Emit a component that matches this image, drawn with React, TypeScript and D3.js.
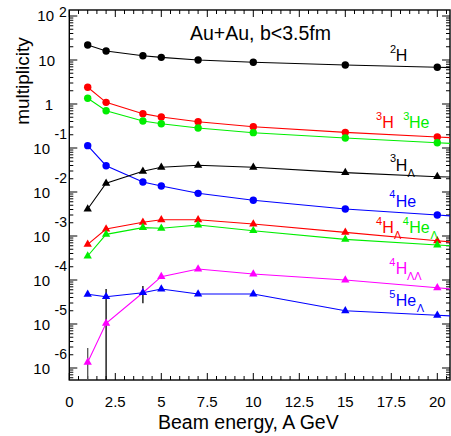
import React from "react";
import * as d3 from "d3";

// ---- data ----
const energies = [1, 2, 4, 5, 7, 10, 15, 20, 30];
const h2 = [21.9, 16.0, 12.5, 11.5, 10.0, 8.87, 7.7, 6.82, 5.4];
const h3 = [2.4, 1.09, 0.603, 0.507, 0.396, 0.305, 0.227, 0.178, 0.109];
const he3 = [1.35, 0.705, 0.411, 0.357, 0.285, 0.223, 0.169, 0.132, 0.081];
const he4 = [0.113, 0.0396, 0.01687, 0.01368, 0.00933, 0.00647, 0.00411, 0.003, 0.0016];
const h3L = [0.00411, 0.0158, 0.0295, 0.0364, 0.0404, 0.0364, 0.0275, 0.0223, 0.0181];
const h4L = [6.47e-4, 1.44e-3, 2.05e-3, 2.34e-3, 2.34e-3, 1.87e-3, 1.21e-3, 7.8e-4, 3.3e-4];
const he4L = [3.51e-4, 1.09e-3, 1.55e-3, 1.5e-3, 1.78e-3, 1.32e-3, 8.4e-4, 6.24e-4, 3.4e-4];
const h4LL = [1.35e-6, 1.04e-5, 5.14e-5, 1.19e-4, 1.78e-4, 1.37e-4, 1.0e-4, 6.65e-5, 2.95e-5];
const he5L = [4.73e-5, 4.17e-5, 5.14e-5, 6.24e-5, 4.81e-5, 4.81e-5, 2.0e-5, 1.58e-5, 9.8e-6];

// error bars on 4H_LL
const errE = [1, 2, 4];
const errLo = [1e-8, 1e-8, 2.95e-5];
const errHi = [2.85e-6, 6.24e-5, 7.3e-5];

const xTickLabels = ["0", "2.5", "5", "7.5", "10", "12.5", "15", "17.5", "20"];
const yDecades = [-6, -5, -4, -3, -2, -1, 0, 1, 2];

type S = { vals: number[]; color: string; shape: "circle" | "triangle" };
const series: S[] = [
  { vals: h2, color: "#000000", shape: "circle" },
  { vals: h3, color: "#ff0000", shape: "circle" },
  { vals: he3, color: "#00ee00", shape: "circle" },
  { vals: he4, color: "#0000ff", shape: "circle" },
  { vals: h3L, color: "#000000", shape: "triangle" },
  { vals: h4L, color: "#ff0000", shape: "triangle" },
  { vals: he4L, color: "#00ee00", shape: "triangle" },
  { vals: h4LL, color: "#ff00ff", shape: "triangle" },
  { vals: he5L, color: "#0000ff", shape: "triangle" },
];

// ---- layout ----
const W = 451, H = 436;
const L = 69.3, R = 450, T = 10, B = 380;
const pxPerUnit = 18.4;
const xMax = (R - L) / pxPerUnit;
const decadePx = 44;
const logMax = 1 + (60 - T) / decadePx;
const logMin = 1 - (B - 60) / decadePx;

const FONT = "'Liberation Sans', Arial, Helvetica, sans-serif";

export default function App() {
  const x = d3.scaleLinear().domain([0, xMax]).range([L, R]);
  const y = d3.scaleLog().domain([Math.pow(10, logMin), Math.pow(10, logMax)]).range([B, T]);

  const line = d3
    .line<number>()
    .x((_, i) => x(energies[i]))
    .y((v) => y(v));

  const tri = d3.symbol().type(d3.symbolTriangle).size(30)();

  // ticks
  const xMinor = d3.range(0, xMax + 0.001, 0.5);
  const yTicks: { v: number; major: boolean }[] = [];
  for (let e = Math.floor(logMin); e <= Math.ceil(logMax); e++) {
    for (let m = 1; m <= 9; m++) {
      const v = m * Math.pow(10, e);
      const lv = Math.log10(v);
      if (lv >= logMin - 1e-9 && lv <= logMax + 1e-9) yTicks.push({ v, major: m === 1 });
    }
  }

  const labelBlock = (
    parts: { t: string; x: number; y: number; size: number; color: string }[],
    key: string
  ) => (
    <g key={key}>
      {parts.map((p, i) => (
        <text key={i} x={p.x} y={p.y} fontSize={p.size} fill={p.color} fontFamily={FONT}>
          {p.t}
        </text>
      ))}
    </g>
  );

  const SUP = 11, MAIN = 16;
  const lab = (sup: string, supX: number, main: string, mainX: number, base: number, color: string, sub?: string, subX?: number) => {
    const parts = [
      { t: sup, x: supX, y: base - 8.5, size: SUP, color },
      { t: main, x: mainX, y: base, size: MAIN, color },
    ];
    if (sub && subX !== undefined) parts.push({ t: sub, x: subX, y: base + 6, size: SUP, color });
    return parts;
  };

  return (
    <svg width={W} height={H} style={{ position: "absolute", left: 0, top: 0, background: "#fff" }}>
      <defs>
        <clipPath id="plot">
          <rect x={L} y={T} width={R - L} height={B - T} />
        </clipPath>
      </defs>

      {/* x ticks bottom & top */}
      {xMinor.map((v) => {
        const major = Math.abs(v / 2.5 - Math.round(v / 2.5)) < 1e-6;
        const len = major ? 7 : 4;
        return (
          <g key={"xt" + v} stroke="#000" strokeWidth={1}>
            <line x1={x(v)} x2={x(v)} y1={B} y2={B - len} />
            <line x1={x(v)} x2={x(v)} y1={T} y2={T + len} />
          </g>
        );
      })}
      {/* y ticks left & right */}
      {yTicks.map((t, i) => {
        const len = t.major ? 8 : 4;
        return (
          <g key={"yt" + i} stroke="#000" strokeWidth={1}>
            <line x1={L} x2={L + len} y1={y(t.v)} y2={y(t.v)} />
            <line x1={R} x2={R - len} y1={y(t.v)} y2={y(t.v)} />
          </g>
        );
      })}

      {/* frame */}
      <rect x={L} y={T} width={R - L} height={B - T} fill="none" stroke="#000" strokeWidth={1.4} />

      {/* x tick labels */}
      {xTickLabels.map((s) => (
        <text key={"xl" + s} x={x(+s)} y={407} textAnchor="middle" fontSize={15} fontFamily={FONT}>
          {s}
        </text>
      ))}

      {/* y tick labels */}
      {yDecades.map((e) => {
        const ty = y(Math.pow(10, e));
        if (e === 0)
          return (
            <text key="y0" x={53} y={ty + 5.5} textAnchor="end" fontSize={15} fontFamily={FONT}>
              1
            </text>
          );
        if (e === 1)
          return (
            <text key="y1" x={55} y={ty + 6} textAnchor="end" fontSize={15} fontFamily={FONT}>
              10
            </text>
          );
        if (e === 2)
          return (
            <g key="y2" fontFamily={FONT}>
              <text x={54} y={ty + 5} textAnchor="end" fontSize={15}>10</text>
              <text x={59} y={ty + 1} fontSize={14}>2</text>
            </g>
          );
        return (
          <g key={"y" + e} fontFamily={FONT}>
            <text x={50} y={ty + 6} textAnchor="end" fontSize={15}>10</text>
            <text x={67} y={ty - 9} textAnchor="end" fontSize={14}>{String(e)}</text>
          </g>
        );
      })}

      {/* data */}
      <g clipPath="url(#plot)">
        {errE.map((e, i) => (
          <line
            key={"err" + i}
            x1={x(e)}
            x2={x(e)}
            y1={y(errLo[i])}
            y2={y(errHi[i])}
            stroke={i === 0 ? "#555" : "#000"}
            strokeWidth={1.3}
          />
        ))}
        {series.map((s, si) => (
          <path key={"l" + si} d={line(s.vals) || ""} fill="none" stroke={s.color} strokeWidth={1.1} />
        ))}
        {series.map((s, si) =>
          s.vals.map((v, i) =>
            s.shape === "circle" ? (
              <circle key={`m${si}-${i}`} cx={x(energies[i])} cy={y(v)} r={3.7} fill={s.color} />
            ) : (
              <path key={`m${si}-${i}`} d={tri || ""} transform={`translate(${x(energies[i])},${y(v)})`} fill={s.color} />
            )
          )
        )}
      </g>

      {/* title */}
      <text x={190} y={40} fontSize={19.5} fontFamily={FONT}>
        Au+Au, b&lt;3.5fm
      </text>

      {/* series labels */}
      {labelBlock(lab("2", 390, "H", 395.7, 61, "#000"), "lh2")}
      {labelBlock(
        [...lab("3", 376, "H", 382.3, 128.3, "#ff0000"), ...lab("3", 403.3, "He", 409, 128.3, "#00ee00")],
        "lh3"
      )}
      {labelBlock(lab("3", 390, "H", 395.7, 170.7, "#000", "Λ", 407.5), "lh3l")}
      {labelBlock(lab("4", 389.3, "He", 395.7, 206.7, "#0000ff"), "lhe4")}
      {labelBlock(
        [
          ...lab("4", 376, "H", 382.3, 233.3, "#ff0000", "Λ", 394),
          ...lab("4", 402.7, "He", 409.3, 233.3, "#00ee00", "Λ", 430.5),
        ],
        "lh4l"
      )}
      {labelBlock(lab("4", 389.3, "H", 395.7, 274, "#ff00ff", "ΛΛ", 407), "lh4ll")}
      {labelBlock(lab("5", 389.3, "He", 395.7, 306, "#0000ff", "Λ", 416.7), "lhe5l")}

      {/* axis titles */}
      <text x={158} y={429} fontSize={19.5} fontFamily={FONT}>
        Beam energy, A GeV
      </text>
      <text
        transform="translate(29,81) rotate(-90)"
        textAnchor="middle"
        fontSize={19}
        fontFamily={FONT}
      >
        multiplicity
      </text>
    </svg>
  );
}
